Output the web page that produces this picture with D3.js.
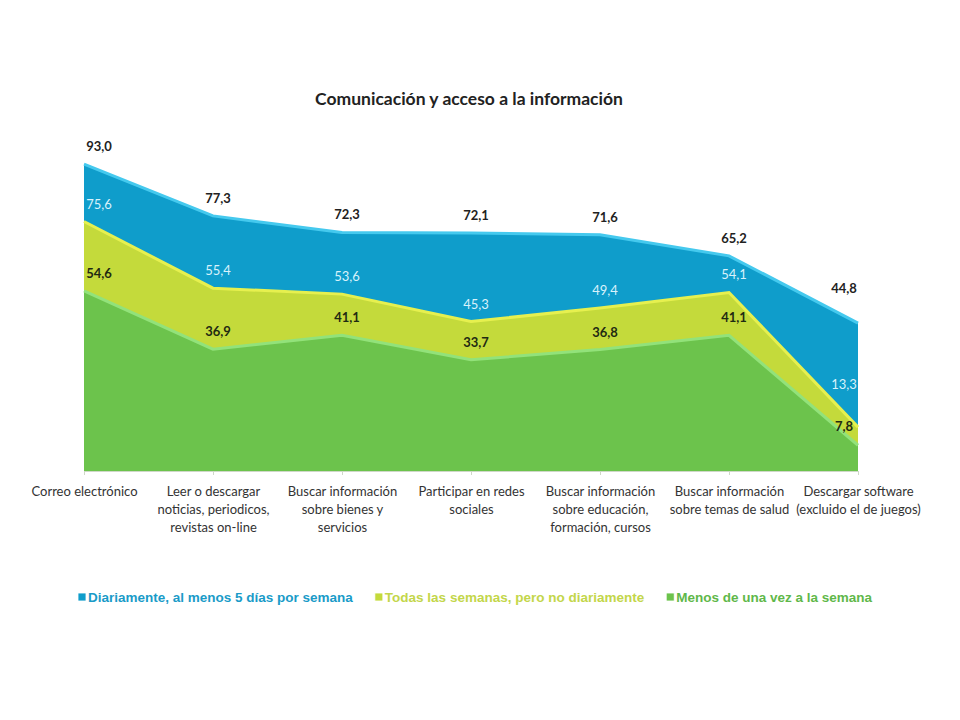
<!DOCTYPE html>
<html>
<head>
<meta charset="utf-8">
<script src="https://cdn.jsdelivr.net/npm/d3@7"></script>
<style>
  body { margin: 0; background: #fff; }
  svg text { font-family: Lato, "Open Sans", sans-serif; }
</style>
</head>
<body>
<svg id="chart" width="960" height="720"></svg>
<script>
// categories (each split into the lines shown under the axis)
const categories = [
    ['Correo electrónico'],
    ['Leer o descargar', 'noticias, periodicos,', 'revistas on-line'],
    ['Buscar información', 'sobre bienes y', 'servicios'],
    ['Participar en redes', 'sociales'],
    ['Buscar información', 'sobre educación,', 'formación, cursos'],
    ['Buscar información', 'sobre temas de salud'],
    ['Descargar software', '(excluido el de juegos)'],
];

// values (top edge of each area)
const blueValues = [93.0, 77.3, 72.3, 72.1, 71.6, 65.2, 44.8];
const yellowValues = [75.6, 55.4, 53.6, 45.3, 49.4, 54.1, 13.3];
const greenValues = [54.6, 36.9, 41.1, 33.7, 36.8, 41.1, 7.8];

const legendLabels = [
    'Diariamente, al menos 5 días por semana',
    'Todas las semanas, pero no diariamente',
    'Menos de una vez a la semana',
];

const title = 'Comunicación y acceso a la información';

const svg = d3.select('#chart');

const x = d3.scalePoint()
    .domain(d3.range(categories.length))
    .range([84, 858]);

const y = d3.scaleLinear()
    .domain([0, 100])
    .range([471, 141]);

const fmt = d3.formatLocale({decimal: ',', thousands: '.', grouping: [3], currency: ['', '€']}).format('.1f');
const last = categories.length - 1;

// drawn back to front, each area overlaps the one behind it
const layers = [
    {values: blueValues, fill: '#0f9dcb', edge: '#45c9ee', label: '#222', weight: 'bold', legend: '#1a9bc8', lastDy: -30},
    {values: yellowValues, fill: '#c4da3b', edge: '#e6f04f', label: '#d9f2fb', weight: 'normal', legend: '#c3d64a', lastDy: -38},
    {values: greenValues, fill: '#6cc34c', edge: '#92e27a', label: '#1f2a12', weight: 'bold', legend: '#5fb84a', lastDy: -14},
];

const area = d3.area()
    .x((d, i) => x(i))
    .y0(y(0))
    .y1(d => y(d));

const line = d3.line()
    .x((d, i) => x(i))
    .y(d => y(d));

layers.forEach(l => {
    svg.append('path')
        .datum(l.values)
        .attr('d', area)
        .attr('fill', l.fill);
    svg.append('path')
        .datum(l.values)
        .attr('d', line)
        .attr('fill', 'none')
        .attr('stroke', l.edge)
        .attr('stroke-width', 3);
});

// axis with wrapped category labels
const axis = svg.append('g')
    .attr('transform', `translate(0,${y(0)})`)
    .call(d3.axisBottom(x).tickSize(4).tickFormat(''));
axis.select('.domain').attr('stroke', '#cfd8c8');
axis.selectAll('.tick line').attr('stroke', '#cfd8c8');
axis.selectAll('.tick').each(function (i) {
    const t = d3.select(this).append('text')
        .attr('y', 25)
        .attr('fill', '#333')
        .attr('font-size', 13)
        .attr('text-anchor', 'middle');
    categories[i].forEach((ln, k) => {
        t.append('tspan').attr('x', 0).attr('dy', k === 0 ? 0 : 18).text(ln);
    });
});

// data labels
layers.forEach(l => {
    svg.append('g')
        .selectAll('text')
        .data(l.values)
        .join('text')
        .attr('x', (d, i) => x(i) + (i === 0 ? 15 : i === last ? -14 : 5))
        .attr('y', (d, i) => y(d) + (i === last ? l.lastDy : -13))
        .attr('text-anchor', 'middle')
        .attr('font-size', 13)
        .attr('font-weight', l.weight)
        .attr('fill', l.label)
        .text(d => fmt(d));
});

// title
svg.append('text')
    .attr('x', 469)
    .attr('y', 105)
    .attr('text-anchor', 'middle')
    .attr('font-size', 17.5)
    .attr('font-weight', 'bold')
    .attr('fill', '#222')
    .text(title);

// legend
const legend = svg.append('g').attr('transform', 'translate(78,598)');
let lx = 0;
layers.forEach((l, i) => {
    const g = legend.append('g').attr('transform', `translate(${lx},0)`);
    g.append('rect')
        .attr('x', 0).attr('y', -5)
        .attr('width', 8).attr('height', 8)
        .attr('fill', l.fill)
        .attr('stroke', '#fff')
        .attr('stroke-width', 0.8);
    const t = g.append('text')
        .attr('x', 10)
        .attr('y', 4)
        .attr('font-size', 13.5)
        .attr('font-weight', 'bold')
        .attr('fill', l.legend)
        .style('font-family', '"Liberation Sans", Arial, sans-serif')
        .text(legendLabels[i]);
    lx += 10 + t.node().getComputedTextLength() + 22;
});
</script>
</body>
</html>
